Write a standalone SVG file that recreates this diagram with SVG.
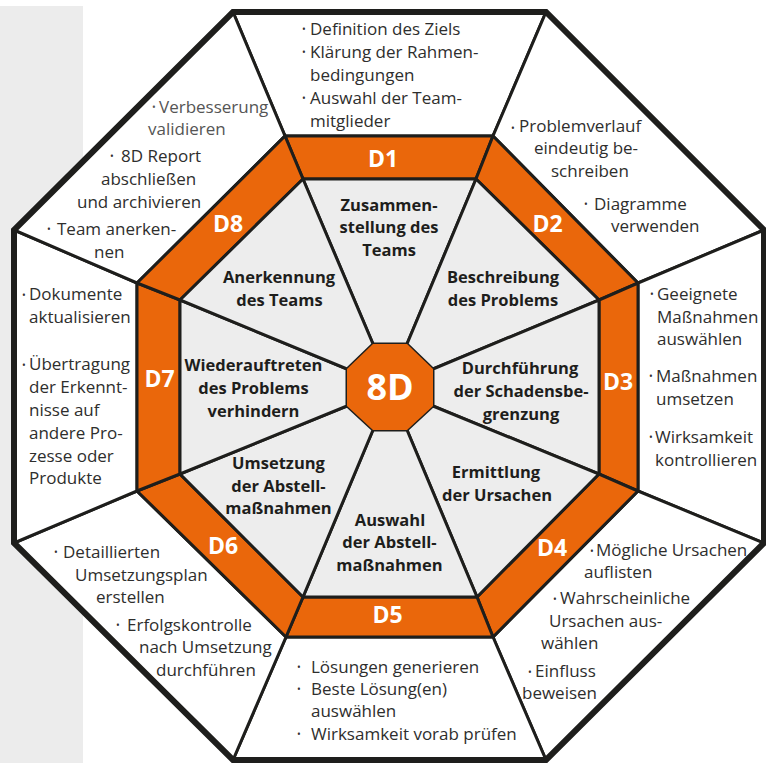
<svg xmlns="http://www.w3.org/2000/svg" width="766" height="763" viewBox="0 0 766 763">
<style>
.w{fill:#ffffff;stroke:#1e1e1c;stroke-width:3;stroke-linejoin:miter}
.r{fill:#ea670b;stroke:#1e1e1c;stroke-width:3;stroke-linejoin:miter}
.g{fill:#ededed;stroke:#1e1e1c;stroke-width:3;stroke-linejoin:miter}
.t{font-family:"Open Sans","Liberation Sans",sans-serif;font-size:17px;fill:#2e2e2d}
.t2{fill:#555555}
.b{font-size:10px}
.l{font-family:"Open Sans","Liberation Sans",sans-serif;font-weight:bold;font-size:16.5px;fill:#1e1e1c;text-anchor:middle}
.d{font-family:"Open Sans","Liberation Sans",sans-serif;font-weight:bold;font-size:23px;fill:#ffffff;text-anchor:middle}
</style>
<rect x="0" y="6" width="83" height="757" fill="#ececec"/>

<g id="D1">
<polygon class="w" points="233,12 546,12 493,136 285,136"/>
<polygon class="r" points="285,136 493,136 476,179 303,179"/>
<polygon class="g" points="303,179 476,179 407,344 373,344"/>
<text class="d" x="383" y="167">D1</text>
<text class="t"><tspan class="b" x="302" y="33">•</tspan><tspan x="310" y="35">Definition des Ziels</tspan><tspan class="b" x="302" y="55.5">•</tspan><tspan x="310" y="57.5">Klärung der Rahmen-</tspan><tspan x="310" y="80.5">bedingungen</tspan><tspan class="b" x="302" y="102">•</tspan><tspan x="310" y="104">Auswahl der Team-</tspan><tspan x="310" y="127">mitglieder</tspan></text>
<text class="l"><tspan x="389" y="211">Zusammen-</tspan><tspan x="389" y="233">stellung des</tspan><tspan x="389" y="256">Teams</tspan></text>
</g>

<g id="D2">
<polygon class="w" points="546,12 764,230 638,283 493,136"/>
<polygon class="r" points="493,136 638,283 599,300 476,179"/>
<polygon class="g" points="476,179 599,300 433,369 407,344"/>
<text class="d" x="547.5" y="232">D2</text>
<text class="t"><tspan class="b" x="511" y="132">•</tspan><tspan x="519" y="132">Problemverlauf</tspan><tspan x="534" y="154">eindeutig be-</tspan><tspan x="551" y="177">schreiben</tspan><tspan class="b" x="584" y="208">•</tspan><tspan x="594" y="210">Diagramme</tspan><tspan x="611" y="232">verwenden</tspan></text>
<text class="l"><tspan x="503" y="283">Beschreibung</tspan><tspan x="503" y="306">des Problems</tspan></text>
</g>

<g id="D3">
<polygon class="w" points="764,230 764,543 638,491 638,283"/>
<polygon class="r" points="638,283 638,491 599,474 599,300"/>
<polygon class="g" points="599,300 599,474 433,406 433,369"/>
<text class="d" x="618" y="390">D3</text>
<text class="t"><tspan class="b" x="650" y="298">•</tspan><tspan x="657" y="300">Geeignete</tspan><tspan x="657" y="323">Maßnahmen</tspan><tspan x="657" y="345">auswählen</tspan><tspan class="b" x="649" y="380">•</tspan><tspan x="656" y="382">Maßnahmen</tspan><tspan x="656" y="405">umsetzen</tspan><tspan class="b" x="649" y="441">•</tspan><tspan x="655" y="443">Wirksamkeit</tspan><tspan x="655" y="466">kontrollieren</tspan></text>
<text class="l"><tspan x="520" y="374">Durchführung</tspan><tspan x="521" y="397">der Schadensbe-</tspan><tspan x="521" y="420">grenzung</tspan></text>
</g>

<g id="D4">
<polygon class="w" points="764,543 546,760 493,637 638,491"/>
<polygon class="r" points="638,491 493,637 477,597 599,474"/>
<polygon class="g" points="599,474 477,597 407,430 433,406"/>
<text class="d" x="552" y="556">D4</text>
<text class="t"><tspan class="b" x="590" y="555">•</tspan><tspan x="596" y="556">Mögliche Ursachen</tspan><tspan x="584" y="578">auflisten</tspan><tspan class="b" x="553" y="603">•</tspan><tspan x="560" y="604">Wahrscheinliche</tspan><tspan x="549" y="627">Ursachen aus-</tspan><tspan x="541" y="649">wählen</tspan><tspan class="b" x="528" y="676">•</tspan><tspan x="535" y="677">Einfluss</tspan><tspan x="522" y="699">beweisen</tspan></text>
<text class="l"><tspan x="496" y="478">Ermittlung</tspan><tspan x="497" y="501">der Ursachen</tspan></text>
</g>

<g id="D5">
<polygon class="w" points="546,760 233,760 286,637 493,637"/>
<polygon class="r" points="493,637 286,637 303,597 477,597"/>
<polygon class="g" points="477,597 303,597 373,430 407,430"/>
<text class="d" x="387.5" y="623">D5</text>
<text class="t"><tspan class="b" x="297" y="671">•</tspan><tspan x="311" y="673">Lösungen generieren</tspan><tspan class="b" x="297" y="693">•</tspan><tspan x="311" y="695">Beste Lösung(en)</tspan><tspan x="311" y="717">auswählen</tspan><tspan class="b" x="297" y="738">•</tspan><tspan x="311" y="740">Wirksamkeit vorab prüfen</tspan></text>
<text class="l"><tspan x="390" y="526">Auswahl</tspan><tspan x="389.5" y="548">der Abstell-</tspan><tspan x="389.5" y="571">maßnahmen</tspan></text>
</g>

<g id="D6">
<polygon class="w" points="233,760 14,543 137,491 286,637"/>
<polygon class="r" points="286,637 137,491 180,474 303,597"/>
<polygon class="g" points="303,597 180,474 347,406 373,430"/>
<text class="d" x="223" y="554">D6</text>
<text class="t"><tspan class="b" x="54" y="556">•</tspan><tspan x="63" y="558">Detaillierten</tspan><tspan x="75" y="581">Umsetzungsplan</tspan><tspan x="96" y="603">erstellen</tspan><tspan class="b" x="116" y="629">•</tspan><tspan x="127" y="631">Erfolgskontrolle</tspan><tspan x="139" y="653">nach Umsetzung</tspan><tspan x="156" y="676">durchführen</tspan></text>
<text class="l"><tspan x="278.5" y="469">Umsetzung</tspan><tspan x="278.5" y="492">der Abstell-</tspan><tspan x="278.5" y="514">maßnahmen</tspan></text>
</g>

<g id="D7">
<polygon class="w" points="14,543 14,230 137,283 137,491"/>
<polygon class="r" points="137,491 137,283 180,300 180,474"/>
<polygon class="g" points="180,474 180,300 347,369 347,406"/>
<text class="d" x="159.5" y="387">D7</text>
<text class="t"><tspan class="b" x="22" y="299">•</tspan><tspan x="29" y="300">Dokumente</tspan><tspan x="29" y="323">aktualisieren</tspan><tspan class="b" x="22" y="369">•</tspan><tspan x="29" y="370">Übertragung</tspan><tspan x="29" y="393">der Erkennt-</tspan><tspan x="29" y="416">nisse auf</tspan><tspan x="29" y="439">andere Pro-</tspan><tspan x="29" y="462">zesse oder</tspan><tspan x="29" y="484">Produkte</tspan></text>
<text class="l"><tspan x="253.5" y="371">Wiederauftreten</tspan><tspan x="253.5" y="394">des Problems</tspan><tspan x="253.5" y="417">verhindern</tspan></text>
</g>

<g id="D8">
<polygon class="w" points="14,230 233,12 285,136 137,283"/>
<polygon class="r" points="137,283 285,136 303,179 180,300"/>
<polygon class="g" points="180,300 303,179 373,344 347,369"/>
<text class="d" x="228" y="232">D8</text>
<text class="t"><tspan class="t2"><tspan class="b" x="152" y="111">•</tspan><tspan x="159" y="113">Verbesserung</tspan><tspan x="148" y="135">validieren</tspan></tspan><tspan class="b" x="110" y="160">•</tspan><tspan x="121" y="162">8D Report</tspan><tspan x="101" y="185">abschließen</tspan><tspan x="77" y="208">und archivieren</tspan><tspan class="b" x="47" y="233">•</tspan><tspan x="57" y="235">Team anerken-</tspan><tspan x="94" y="258">nen</tspan></text>
<text class="l"><tspan x="279" y="283">Anerkennung</tspan><tspan x="279.5" y="306">des Teams</tspan></text>
</g>

<g id="frame">
<polygon points="233,12 546,12 764,230 764,543 546,760 233,760 14,543 14,230" fill="none" stroke="#1e1e1c" stroke-width="6" stroke-linejoin="miter"/>
</g>

<g id="center">
<polygon points="373,344 407,344 433,369 433,406 407,430 373,430 347,406 347,369" fill="#ea670b"/>
<text x="390" y="400" font-family="'Open Sans','Liberation Sans',sans-serif" font-weight="bold" font-size="36" fill="#ffffff" text-anchor="middle">8D</text>
</g>
</svg>
